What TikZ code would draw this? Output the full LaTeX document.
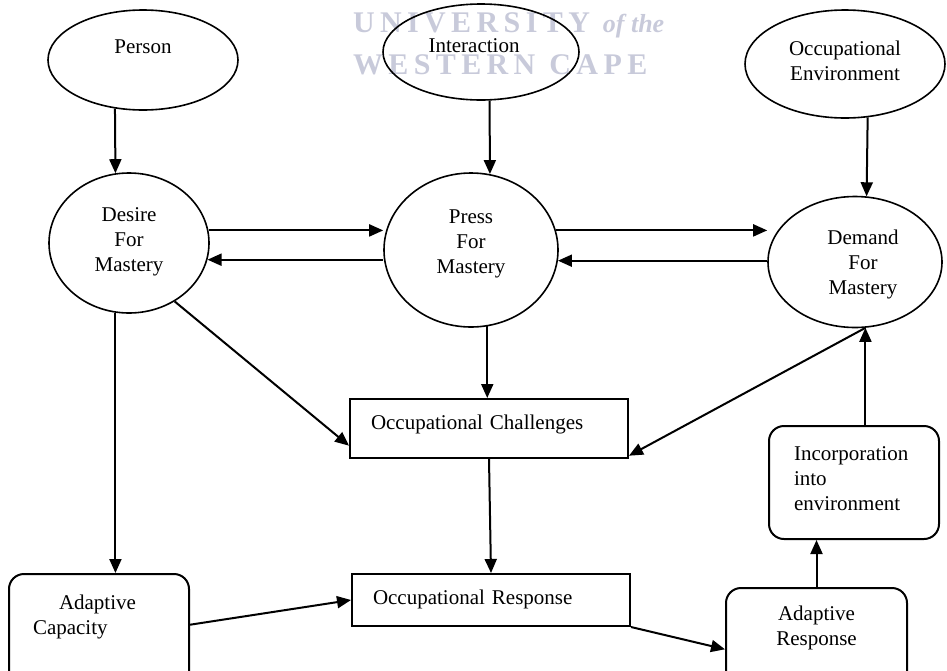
\documentclass[tikz,border=0pt]{standalone}
\usepackage{fontspec}
\setmainfont{Liberation Serif}
\newfontfamily\wmfont[LetterSpace=18]{Liberation Serif}
\usetikzlibrary{shapes.geometric, arrows.meta}
\definecolor{wmgray}{RGB}{200,202,218}

\begin{document}
\begin{tikzpicture}[x=1pt, y=-1pt, line width=2pt,
    >={Triangle[length=14pt, width=12pt]},
    every node/.style={font=\fontsize{21}{25}\selectfont, inner sep=0pt},
    oval/.style={draw, ellipse, line width=1.6pt},
    box/.style={draw, rectangle, line width=2pt, anchor=north west, align=left},
    rbox/.style={box, rounded corners=15pt},
    wm/.style={anchor=base west, text=wmgray,
      font=\wmfont\bfseries\fontsize{30}{30}\selectfont}]
  \useasboundingbox (0,0) rectangle (947,670);
  \clip (0,0) rectangle (947,670);

  % watermark of the scan
  \node[wm] (wm1) at (352,32) {UNIVERSITY {\itshape\addfontfeature{LetterSpace=0}\fontsize{26}{26}\selectfont of the}};
  \node[wm] (wm2) at (352,74) {WESTERN\hspace{14pt}CAPE};

  \node[oval, minimum width=190pt, minimum height=100pt, text height=10pt, text depth=24pt] (pers) at (143,60) {Person};
  \node[oval, minimum width=196pt, minimum height=96pt, text height=13pt, text depth=13pt] (inter) at (481,52) {Interaction\hspace*{14pt}};
  \node[oval, minimum width=200pt, minimum height=108pt, text width=120pt, align=center,
    text height=12pt, text depth=30pt] (env) at (845,64) {Occupational\\Environment};

  \node[oval, minimum width=160pt, minimum height=140pt, text width=100pt, align=center,
    text height=12pt, text depth=56pt] (desire) at (129,243) {Desire\\For\\Mastery};
  \node[oval, minimum width=174pt, minimum height=154pt, text width=100pt, align=center,
    text height=12pt, text depth=66pt] (press) at (471,250) {Press\\For\\Mastery};
  \node[oval, minimum width=174pt, minimum height=131pt, text width=110pt, align=center,
    text height=12pt, text depth=48pt] (demand) at (855,262)
    {\hspace*{16pt}Demand\\\hspace*{16pt}For\\\hspace*{16pt}Mastery};

  \node[box, text width=236pt, inner xsep=21pt, text height=30pt, text depth=29pt] (chal) at (349,398) {Occupational Challenges};
  \node[box, text width=236pt, inner xsep=21pt, text height=30pt, text depth=22pt] (resp) at (351,573) {Occupational Response};
  \node[rbox, text width=132pt, inner xsep=24pt, text height=35pt, text depth=92pt] (cap) at (8,573) {\hspace*{26pt}Adaptive\\Capacity};
  \node[rbox, text width=161pt, inner xsep=10pt, align=center, text height=32pt, text depth=81pt] (adresp) at (725,587) {Adaptive\\Response};
  \node[rbox, text width=120pt, inner xsep=25pt, text height=34pt, text depth=79pt] (incorp) at (768,425) {Incorporation\\into\\environment};

  \path[->, line width=2pt]
    (pers.-120) edge (desire.101)
    (inter.-80) edge (press.76)
    (env.-67) edge (demand.80)
      (desire.9) edge (desire.9 -| press.west)
      (desire.-12 -| press.west) edge (desire.-12)
      (press.13) edge (press.13 -| demand.west)
      (press.-7 -| demand.west) edge (press.-7)
    (desire.-101) edge (desire.-101 |- cap.north)
    (press.-78) edge (press.-78 |- chal.north)
    (desire.-52) edge (chal.-173)
    (demand.-81) edge (chal.-11)
      (demand.-81 |- incorp.north) edge (demand.-81)
      (adresp.north) edge (adresp.north |- incorp.south)
    (chal.south) edge (resp.north)
    (cap.8) edge (resp.west)
    (resp.south east) edge (adresp.-177);
\end{tikzpicture}
\end{document}
